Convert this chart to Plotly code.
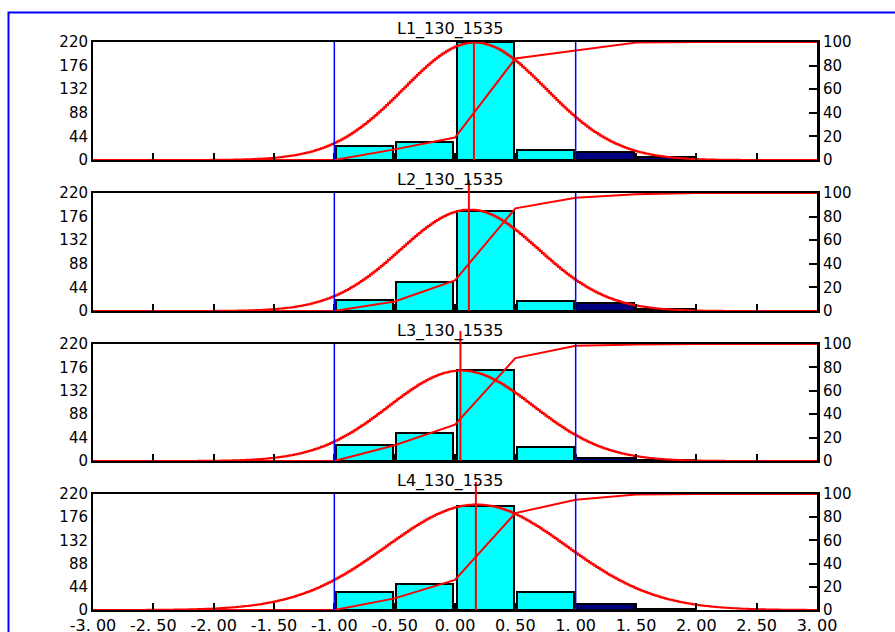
import numpy as np
import plotly.graph_objects as go

# ---------------- data ----------------
titles = ["L1_130_1535", "L2_130_1535", "L3_130_1535", "L4_130_1535"]
bin_centers = [-0.75, -0.25, 0.25, 0.75, 1.25, 1.75]
counts_L1 = [26, 34, 220, 19, 14, 5]
counts_L2 = [21, 54, 187, 19, 14, 3]
counts_L3 = [30, 53, 171, 27, 5, 2]
counts_L4 = [34, 49, 197, 34, 11, 2]
bar_colors = ["#00FFFF", "#00FFFF", "#00FFFF", "#00FFFF", "#000080", "#000080"]

cum_x = [-3.0, -1.0, -0.5, 0.0, 0.5, 1.0, 1.5, 2.0, 3.0]
cum_L1 = [0, 0, 9, 19, 86, 93, 99.5, 100, 100]
cum_L2 = [0, 0, 8, 26, 87, 96, 99, 100, 100]
cum_L3 = [0, 0, 13.5, 31, 88, 98.5, 99.5, 100, 100]
cum_L4 = [0, 0, 10, 26, 83.5, 95, 99.5, 100, 100]

means = [0.157, 0.115, 0.045, 0.173]
sigmas = [0.59, 0.573, 0.60, 0.745]
curve_peaks = [219, 189, 170, 200]

spec_limits = [-1.0, 1.0]
x_tickvals = [-3.0, -2.5, -2.0, -1.5, -1.0, -0.5, 0.0, 0.5, 1.0, 1.5, 2.0, 2.5, 3.0]
x_ticktext = ["-3. 00", "-2. 50", "-2. 00", "-1. 50", "-1. 00", "-0. 50", "0. 00",
              "0. 50", "1. 00", "1. 50", "2. 00", "2. 50", "3. 00"]
left_ticks = [0, 44, 88, 132, 176, 220]
right_ticks = [0, 20, 40, 60, 80, 100]

counts_all = [counts_L1, counts_L2, counts_L3, counts_L4]
cum_all = [cum_L1, cum_L2, cum_L3, cum_L4]

# ---------------- layout geometry ----------------
W, H = 895, 632
plot_left, plot_right = 93, 817
panel_tops = [42, 193, 344, 494]
panel_bottoms = [160, 311, 461, 610]
mean_line_ext = [0, 13, 13, 12]

FONT = "DejaVu Sans"
fig = go.Figure()
layout = dict(
    template="none",
    width=W, height=H, margin=dict(l=0, r=0, t=0, b=0, pad=0), autosize=False,
    paper_bgcolor="white", plot_bgcolor="white", showlegend=False,
    bargap=0, font=dict(family=FONT, color="black", size=15),
)
shapes = []
annotations = []

xd = [plot_left / W, plot_right / W]
for i in range(4):
    n = i + 1
    xa = "x" if n == 1 else f"x{n}"
    yl = "y" if n == 1 else f"y{n}"
    yr = f"y{n + 4}"
    y0 = 1 - panel_bottoms[i] / H
    y1 = 1 - panel_tops[i] / H

    layout[f"xaxis{'' if n == 1 else n}"] = dict(
        domain=xd, anchor=yl, range=[-3, 3], showgrid=False, zeroline=False,
        showline=True, linecolor="black", linewidth=2, mirror=True,
        ticks="inside", ticklen=7, tickwidth=1.5, tickcolor="black",
        tickvals=x_tickvals, ticktext=x_ticktext, automargin=False,
        showticklabels=(n == 4), tickfont=dict(family=FONT, size=16),
        fixedrange=True,
    )
    layout[f"yaxis{'' if n == 1 else n}"] = dict(
        domain=[y0, y1], anchor=xa, range=[0, 220], showgrid=False, zeroline=False,
        showline=True, linecolor="black", linewidth=2, ticks="", automargin=False,
        tickvals=left_ticks, tickfont=dict(family=FONT, size=15), fixedrange=True,
    )
    layout[f"yaxis{n + 4}"] = dict(
        domain=[y0, y1], anchor=xa, overlaying=yl, side="right", range=[0, 100],
        showgrid=False, zeroline=False, showline=True, linecolor="black", linewidth=3,
        ticks="inside", ticklen=8, tickwidth=2, tickcolor="black", automargin=False,
        tickvals=right_ticks, tickfont=dict(family=FONT, size=15), fixedrange=True,
    )

    # histogram bars
    fig.add_trace(go.Bar(
        x=bin_centers, y=counts_all[i], width=0.47, xaxis=xa, yaxis=yl,
        marker=dict(color=bar_colors, line=dict(color="black", width=2)),
        hoverinfo="skip",
    ))
    # fitted normal curve (stair-stepped like the original rendering)
    xs = np.arange(-3.0, 3.0001, 0.015)
    ys = curve_peaks[i] * np.exp(-((xs - means[i]) ** 2) / (2 * sigmas[i] ** 2))
    fig.add_trace(go.Scatter(
        x=xs, y=ys, mode="lines", line=dict(color="red", width=2, shape="hv"),
        xaxis=xa, yaxis=yl, hoverinfo="skip",
    ))
    # cumulative percentage
    fig.add_trace(go.Scatter(
        x=cum_x, y=cum_all[i], mode="lines", line=dict(color="red", width=2),
        xaxis=xa, yaxis=yr, hoverinfo="skip",
    ))

    # spec limit lines
    for s in spec_limits:
        shapes.append(dict(type="line", xref=xa, yref="paper", x0=s, x1=s,
                           y0=y0, y1=y1, line=dict(color="#0000FF", width=1.5),
                           layer="above"))
    # mean line
    shapes.append(dict(type="line", xref=xa, yref="paper", x0=means[i], x1=means[i],
                       y0=y0, y1=y1 + mean_line_ext[i] / H,
                       line=dict(color="red", width=2), layer="above"))
    # panel title
    annotations.append(dict(
        text=titles[i], xref="paper", yref="paper", x=450 / W, y=y1,
        xanchor="center", yanchor="bottom", yshift=1, showarrow=False,
        font=dict(family=FONT, size=16, color="black"),
    ))

# outer blue frame
shapes.append(dict(type="rect", xref="paper", yref="paper", x0=8.5 / W, x1=1.05,
                   y0=-0.05, y1=1 - 12.5 / H, line=dict(color="#0000FF", width=2),
                   layer="below"))

layout["shapes"] = shapes
layout["annotations"] = annotations
fig.update_layout(**layout)
fig.write_html("out.html")
